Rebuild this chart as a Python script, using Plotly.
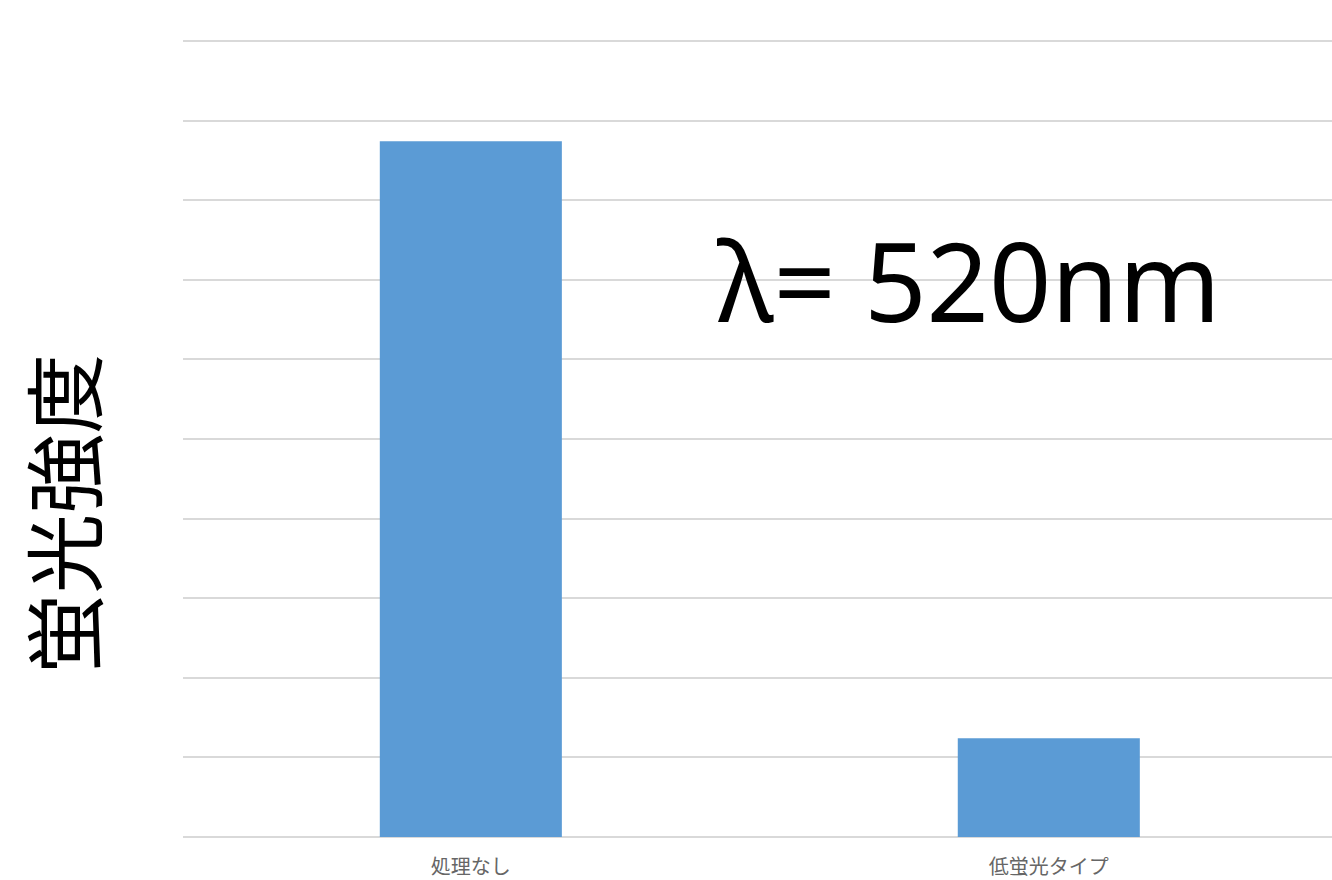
import plotly.graph_objects as go

categories = ["処理なし", "低蛍光タイプ"]
values = [8.74, 1.24]
y_title = "蛍光強度"
note = "λ= 520nm"

fig = go.Figure()
fig.add_trace(go.Bar(
    x=categories, y=values, width=0.315,
    marker=dict(color="#5b9bd5", line=dict(width=0)),
))

fig.update_layout(
    width=1332, height=880,
    margin=dict(l=183, r=0, t=37, b=43),
    paper_bgcolor="white", plot_bgcolor="white",
    showlegend=False,
    xaxis=dict(
        range=[-0.498, 1.49], showgrid=False, zeroline=False, showline=False,
        ticks="", ticklabelstandoff=16,
        tickfont=dict(family="Noto Sans CJK JP", size=20, color="#666666"),
    ),
    yaxis=dict(
        range=[0, 10.05], tickvals=list(range(0, 11)), showticklabels=False, ticks="",
        showgrid=True, gridcolor="#d9d9d9", gridwidth=2,
        zeroline=True, zerolinecolor="#d9d9d9", zerolinewidth=2,
        showline=False,
    ),
    annotations=[
        dict(text=note, xref="paper", yref="y", x=0.684, y=7.0,
             xanchor="center", yanchor="middle", showarrow=False,
             font=dict(family="Noto Sans", size=109, color="black")),
        dict(text=y_title, xref="paper", yref="paper", x=-0.107, y=0.404,
             xanchor="center", yanchor="middle", showarrow=False, textangle=-90,
             font=dict(family="Noto Sans CJK JP", size=80, color="black")),
    ],
)

fig.write_html(
    "out.html",
    config={"displayModeBar": False},
    post_script="document.body.style.margin='0';document.body.style.overflow='hidden';",
)
